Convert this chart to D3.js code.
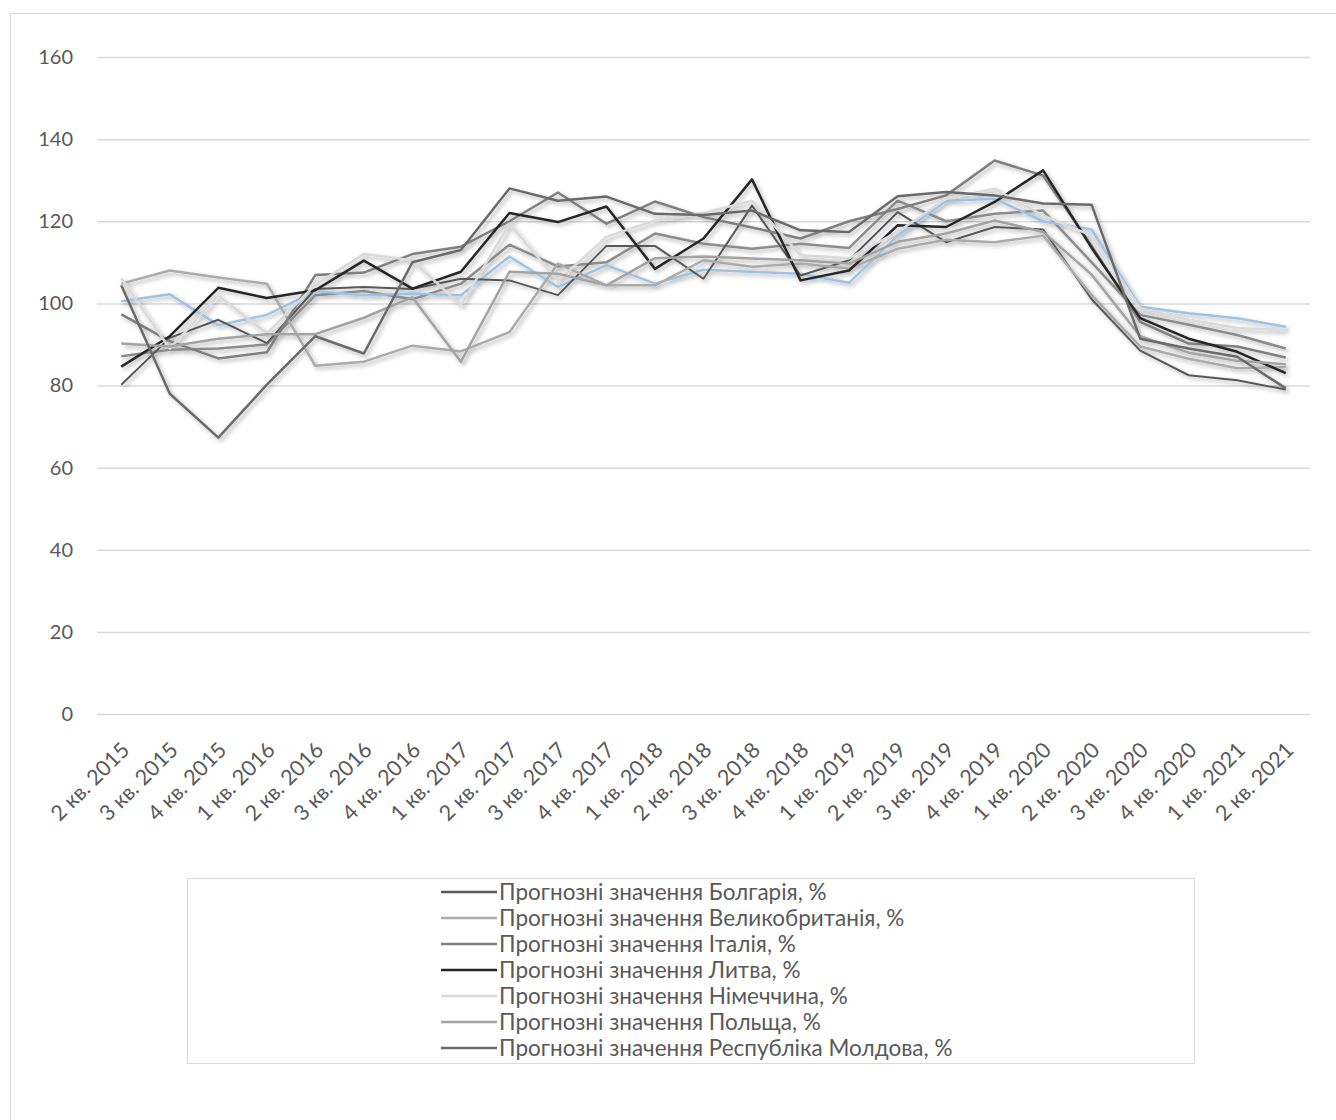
<!DOCTYPE html>
<html>
<head>
<meta charset="utf-8">
<script src="https://cdn.jsdelivr.net/npm/d3@7"></script>
<style>
  body { margin: 0; background: #fff; }
  svg { display: block; font-family: Lato, "Open Sans", sans-serif; }
</style>
</head>
<body>
<svg width="1336" height="1120"></svg>
<script>
const QUARTERS = ['2 кв. 2015', '3 кв. 2015', '4 кв. 2015', '1 кв. 2016', '2 кв. 2016', '3 кв. 2016', '4 кв. 2016',
  '1 кв. 2017', '2 кв. 2017', '3 кв. 2017', '4 кв. 2017', '1 кв. 2018', '2 кв. 2018', '3 кв. 2018', '4 кв. 2018',
  '1 кв. 2019', '2 кв. 2019', '3 кв. 2019', '4 кв. 2019', '1 кв. 2020', '2 кв. 2020', '3 кв. 2020', '4 кв. 2020',
  '1 кв. 2021', '2 кв. 2021'];
const Y_TICKS = [0, 20, 40, 60, 80, 100, 120, 140, 160];

const bulgaria = [80.2, 91.6, 96, 90.3, 103.5, 104, 103.5, 106, 105.6, 102, 114, 114, 106, 123.8, 106.8, 110.5, 122.2, 114.9, 118.6, 118, 101, 88.5, 82.5, 81.3, 79];
const britain = [104.8, 108, 106.3, 104.8, 84.8, 85.8, 89.7, 88.3, 93, 109.7, 104.4, 104.4, 110.5, 108.9, 109.7, 108.5, 113.3, 115.5, 114.9, 116.5, 102, 89.5, 86.5, 84.2, 84.5];
const italy = [97.3, 90.8, 86.6, 88.1, 106.9, 107.5, 112, 113.8, 120, 127, 119.4, 124.8, 121, 118.5, 115.8, 120, 123, 126.3, 134.8, 131.1, 114, 95.5, 90.2, 89.5, 86.8];
const lithuania = [84.6, 92, 103.8, 101.3, 103.2, 110.4, 103.6, 107.7, 122, 119.8, 123.6, 108.4, 115.8, 130.2, 105.6, 108, 119, 118.6, 124.7, 132.4, 113.5, 96.4, 91.4, 88.2, 83];
const germany = [106.1, 89, 101.9, 92.7, 104.5, 112, 110.5, 99.5, 119.4, 105.5, 116.2, 120.2, 122, 125, 111.7, 111, 117.4, 125.5, 127.9, 121.4, 116.5, 98.8, 96, 94, 93.5];
const poland = [90.2, 89.5, 91.4, 92.5, 92.5, 96.5, 101.5, 85.8, 107.7, 107.2, 104.4, 111, 111.4, 110.9, 110.5, 109.7, 115, 117, 120.2, 117.4, 107, 92, 88, 86, 85.2];
const moldova = [104.4, 78, 67.3, 80.2, 92, 87.8, 110, 113, 128, 125, 126, 121.8, 121.5, 122.6, 117.8, 117.4, 126.1, 127.1, 126.3, 124.3, 124, 91.4, 89, 87, 79.3];
// two more lines are drawn on the chart but have no legend entry
const extraBlue = [100.5, 102.2, 94.7, 97.2, 103, 102, 102.4, 102, 111.4, 104, 109.3, 104.8, 108.2, 107.7, 107.2, 105, 116.5, 125, 125.5, 120, 118, 99.2, 97.6, 96.4, 94.3];
const extraGrey = [87.1, 88.7, 89, 90, 102, 103, 101, 104.8, 114.3, 109, 110, 117, 114.5, 113.3, 114.5, 113.5, 125, 120, 121.8, 122.6, 110, 97.2, 94.8, 92.3, 89];

const series = [
  { name: null, values: extraGrey, color: '#8c8c8c' },
  { name: null, values: extraBlue, color: '#9dc3e6' },
  { name: 'Прогнозні значення Болгарія, %', values: bulgaria, color: '#595959', width: 2 },
  { name: 'Прогнозні значення Великобританія, %', values: britain, color: '#ababab' },
  { name: 'Прогнозні значення Італія, %', values: italy, color: '#7f7f7f' },
  { name: 'Прогнозні значення Литва, %', values: lithuania, color: '#262626' },
  { name: 'Прогнозні значення Німеччина, %', values: germany, color: '#dadada' },
  { name: 'Прогнозні значення Польща, %', values: poland, color: '#a3a3a3' },
  { name: 'Прогнозні значення Республіка Молдова, %', values: moldova, color: '#6b6b6b' }
];

const svg = d3.select('svg');
const margin = { top: 57, right: 26, bottom: 406, left: 97 };
const width = +svg.attr('width') - margin.left - margin.right;
const height = +svg.attr('height') - margin.top - margin.bottom;

// outer chart frame
svg.append('rect')
    .attr('x', 10.5).attr('y', 13.5)
    .attr('width', 1340).attr('height', 1120)
    .attr('fill', 'none').attr('stroke', '#d9d9d9');

const defs = svg.append('defs');
defs.append('filter')
    .attr('id', 'shadow')
    .attr('x', '-5%').attr('y', '-20%').attr('width', '110%').attr('height', '140%')
  .append('feDropShadow')
    .attr('dx', 2.5).attr('dy', 2.5).attr('stdDeviation', 2)
    .attr('flood-color', '#000').attr('flood-opacity', 0.3);

const g = svg.append('g').attr('transform', `translate(${margin.left},${margin.top})`);

const x = d3.scaleBand().domain(QUARTERS).range([0, width]);
const y = d3.scaleLinear().domain([0, 160]).range([height, 0]);

// gridlines + y labels
const yAxis = g.append('g')
    .call(d3.axisLeft(y).tickValues(Y_TICKS).tickSize(-width).tickPadding(24));
yAxis.select('.domain').remove();
yAxis.selectAll('line').attr('stroke', '#d9d9d9').attr('stroke-width', 1.5);
yAxis.selectAll('text')
    .attr('fill', '#595959')
    .attr('font-size', 20)
    .attr('font-family', 'Lato, sans-serif');

// x labels
const xAxis = g.append('g')
    .attr('transform', `translate(0,${height})`)
    .call(d3.axisBottom(x).tickSize(0));
xAxis.select('.domain').remove();
xAxis.selectAll('text')
    .attr('fill', '#595959')
    .attr('font-size', 21.5)
    .attr('font-family', 'Lato, sans-serif')
    .attr('text-anchor', 'end')
    .attr('dy', '0.35em')
    .attr('transform', 'translate(2,30) rotate(-45)');

// lines
const line = d3.line()
    .x((d, i) => x(QUARTERS[i]) + x.bandwidth() / 2)
    .y(d => y(d));

g.append('g')
    .attr('filter', 'url(#shadow)')
  .selectAll('path')
  .data(series)
  .enter().append('path')
    .attr('fill', 'none')
    .attr('stroke', d => d.color)
    .attr('stroke-width', d => d.width || 2.5)
    .attr('stroke-linejoin', 'round')
    .attr('d', d => line(d.values));

// legend
const legendSeries = series.filter(d => d.name);
svg.append('rect')
    .attr('x', 187.5).attr('y', 878.5)
    .attr('width', 1007).attr('height', 185)
    .attr('fill', 'none').attr('stroke', '#d9d9d9');

const legend = svg.append('g')
  .selectAll('g')
  .data(legendSeries)
  .enter().append('g')
    .attr('transform', (d, i) => `translate(441,${892 + i * 26})`);

legend.append('line')
    .attr('x1', 0).attr('x2', 56)
    .attr('stroke', d => d.color)
    .attr('stroke-width', 2.5);

legend.append('text')
    .attr('x', 58)
    .attr('dy', '0.35em')
    .attr('fill', '#595959')
    .attr('font-size', 22.5)
    .text(d => d.name);
</script>
</body>
</html>
